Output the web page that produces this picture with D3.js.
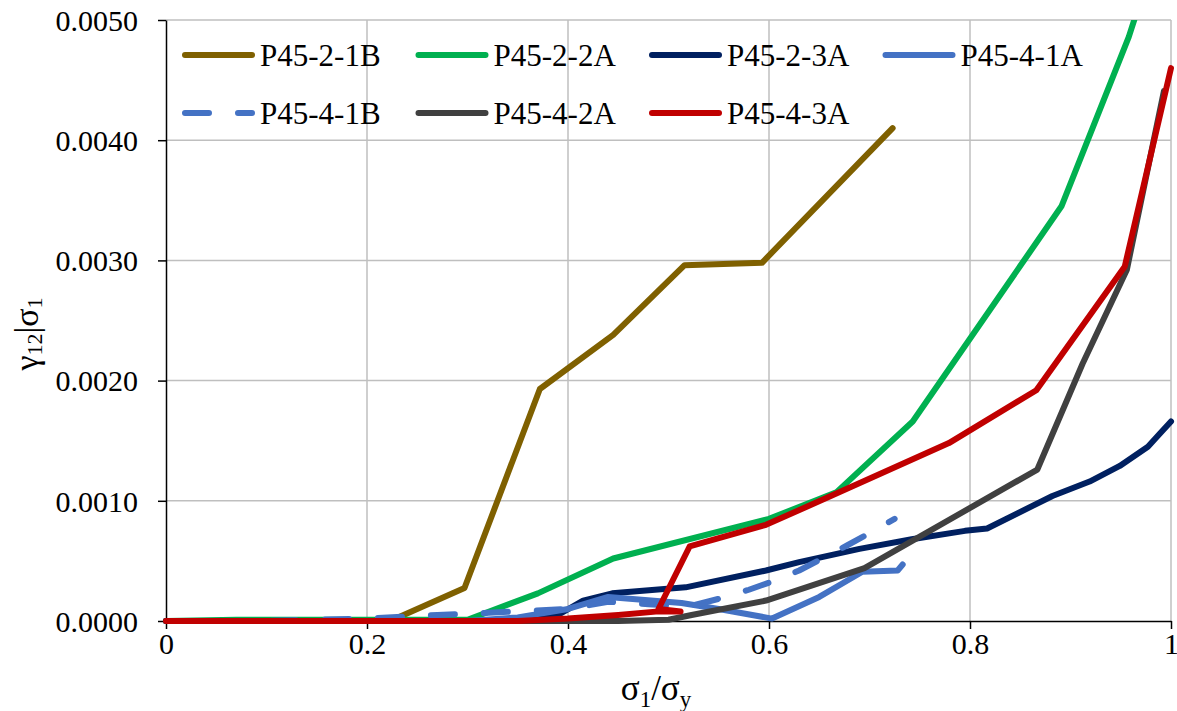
<!DOCTYPE html>
<html>
<head>
<meta charset="utf-8">
<script src="https://cdn.jsdelivr.net/npm/d3@7"></script>
<style>
  body { margin: 0; background: #fff; }
  text { font-family: "Liberation Serif", "Times New Roman", serif; fill: #000; }
</style>
</head>
<body>
<script>
// series values, [sigma1/sigmay, gamma12|sigma1]
var p4521B = [[0,0],[0.05,0],[0.1,0],[0.15,0],[0.223,0],[0.297,0.000275],[0.372,0.00193],[0.445,0.00238],[0.516,0.00296],[0.593,0.00298],[0.723,0.0041]];
var p4522A = [[0,0],[0.07,0.00001],[0.2,0.00001],[0.3,0.00001],[0.37,0.00023],[0.445,0.00052],[0.6,0.00085],[0.667,0.00107],[0.743,0.00166],[0.891,0.00345],[0.958,0.00486],[0.975,0.0053]];
var p4523A = [[0,0],[0.2,0],[0.35,0],[0.39,0.00005],[0.415,0.00017],[0.444,0.00023],[0.517,0.00028],[0.597,0.00042],[0.63,0.00049],[0.69,0.0006],[0.742,0.00068],[0.795,0.00075],[0.817,0.00077],[0.882,0.00104],[0.919,0.00116],[0.949,0.00129],[0.977,0.00145],[0.989,0.00156],[1.0,0.00166]];
var p4541A = [[0,0],[0.2,0],[0.3,0],[0.35,0.00003],[0.4,0.0001],[0.44,0.0002],[0.513,0.00015],[0.55,0.0001],[0.603,0.00002],[0.65,0.0002],[0.693,0.00041],[0.728,0.00042],[0.733,0.00047]];
var p4541B = [[0,0],[0.1,0],[0.2,0.00002],[0.27,0.00005],[0.3,0.00006],[0.35,0.00008],[0.4,0.0001],[0.44,0.00016],[0.48,0.00014],[0.52,0.00012],[0.557,0.0002],[0.58,0.00026],[0.607,0.00034],[0.63,0.00042],[0.653,0.00052],[0.678,0.00063],[0.7,0.00073],[0.725,0.00085]];
var p4542A = [[0,0],[0.3,0],[0.45,0],[0.5,0.00001],[0.523,0.00005],[0.597,0.00017],[0.695,0.00044],[0.867,0.00126],[0.912,0.00214],[0.956,0.00292],[0.993,0.00441]];
var p4543A = [[0,0],[0.2,0],[0.35,0],[0.4,0.00002],[0.45,0.00005],[0.49,0.00008],[0.512,0.00008],[0.49,0.0001],[0.521,0.00062],[0.597,0.0008],[0.667,0.00106],[0.779,0.00148],[0.866,0.00192],[0.954,0.00295],[1.0,0.0046]];

var seriesNames = ["P45-2-1B", "P45-2-2A", "P45-2-3A", "P45-4-1A", "P45-4-1B", "P45-4-2A", "P45-4-3A"];
var seriesValues = [p4521B, p4522A, p4523A, p4541A, p4541B, p4542A, p4543A];
var seriesColors = ["#7F6000", "#00B050", "#002060", "#4472C4", "#4472C4", "#404040", "#C00000"];
var seriesDashed = [false, false, false, false, true, false, false];

var xTicks = [0, 0.2, 0.4, 0.6, 0.8, 1];
var xTickLabels = ["0", "0.2", "0.4", "0.6", "0.8", "1"];
var yTicks = [0, 0.001, 0.002, 0.003, 0.004, 0.005];
var yTickLabels = ["0.0000", "0.0010", "0.0020", "0.0030", "0.0040", "0.0050"];

var width_SVG = 1177, height_SVG = 711;
var plotL = 166, plotR = 1171, plotT = 20, plotB = 621;

var svg = d3.select("body").append("svg")
    .attr("width", width_SVG)
    .attr("height", height_SVG);

var x = d3.scaleLinear().domain([0, 1]).range([plotL, plotR]);
var y = d3.scaleLinear().domain([0, 0.005]).range([plotB, plotT]);

// grid
svg.append("g").selectAll("line")
    .data(xTicks.slice(1))
    .enter().append("line")
    .attr("x1", function(d){ return x(d); }).attr("x2", function(d){ return x(d); })
    .attr("y1", plotT).attr("y2", plotB)
    .attr("stroke", "#BFBFBF").attr("stroke-width", 1.5);
svg.append("g").selectAll("line")
    .data(yTicks.slice(1))
    .enter().append("line")
    .attr("x1", plotL).attr("x2", plotR)
    .attr("y1", function(d){ return y(d); }).attr("y2", function(d){ return y(d); })
    .attr("stroke", "#BFBFBF").attr("stroke-width", 1.5);

// axes
var xAxis = svg.append("g")
    .attr("transform", "translate(0," + plotB + ")")
    .call(d3.axisBottom(x).tickValues(xTicks).tickSize(8).tickSizeOuter(0)
        .tickFormat(function(d, i){ return xTickLabels[i]; }));
var yAxis = svg.append("g")
    .attr("transform", "translate(" + plotL + ",0)")
    .call(d3.axisLeft(y).tickValues(yTicks).tickSize(8).tickSizeOuter(0)
        .tickFormat(function(d, i){ return yTickLabels[i]; }));
[xAxis, yAxis].forEach(function(a){
    a.select(".domain").attr("stroke", "#000").attr("stroke-width", 1.5);
    a.selectAll(".tick line").attr("stroke", "#000").attr("stroke-width", 1.5);
    a.selectAll(".tick text")
        .style("font-family", '"Liberation Serif", "Times New Roman", serif')
        .style("font-size", "30px").attr("fill", "#000");
});
xAxis.selectAll(".tick text").attr("y", 12).attr("dy", "0.71em");
yAxis.selectAll(".tick text").attr("x", -28).attr("dy", "0.34em");

// clip
svg.append("defs").append("clipPath").attr("id", "plotclip")
    .append("rect").attr("x", plotL - 5).attr("y", plotT)
    .attr("width", plotR - plotL + 10).attr("height", plotB - plotT + 5);

var line = d3.line()
    .x(function(d){ return x(d[0]); })
    .y(function(d){ return y(d[1]); });

svg.append("g").attr("clip-path", "url(#plotclip)")
    .selectAll("path")
    .data(seriesValues)
    .enter().append("path")
    .attr("d", line)
    .attr("fill", "none")
    .attr("stroke", function(d, i){ return seriesColors[i]; })
    .attr("stroke-width", 6)
    .attr("stroke-linejoin", "round")
    .attr("stroke-linecap", "round")
    .attr("stroke-dasharray", function(d, i){ return seriesDashed[i] ? "24,29" : null; });

// legend
var leg = svg.append("g").selectAll("g")
    .data(seriesNames)
    .enter().append("g")
    .attr("transform", function(d, i){
        return "translate(" + (185 + (i % 4) * 233.5) + "," + (55 + Math.floor(i / 4) * 58) + ")";
    });
leg.append("line")
    .attr("x1", 0).attr("x2", 67).attr("y1", 0).attr("y2", 0)
    .attr("stroke", function(d, i){ return seriesColors[i]; })
    .attr("stroke-width", 6)
    .attr("stroke-linecap", "round")
    .attr("stroke-dasharray", function(d, i){ return seriesDashed[i] ? "24,29" : null; });
leg.append("text")
    .attr("x", 75).attr("y", 0).attr("dy", "0.34em")
    .style("font-size", "31px")
    .text(function(d){ return d; });

// axis titles
var xt = svg.append("text")
    .attr("x", 656).attr("y", 700)
    .attr("text-anchor", "middle")
    .style("font-size", "35px");
xt.append("tspan").text("σ");
xt.append("tspan").attr("dy", 7).style("font-size", "23px").text("1");
xt.append("tspan").attr("dy", -7).text("/σ");
xt.append("tspan").attr("dy", 7).style("font-size", "23px").text("y");

var yt = svg.append("text")
    .attr("transform", "translate(38,334) rotate(-90)")
    .attr("text-anchor", "middle")
    .style("font-size", "34px");
yt.append("tspan").text("γ");
yt.append("tspan").attr("dy", 4).style("font-size", "22px").text("12");
yt.append("tspan").attr("dy", -4).text("|σ");
yt.append("tspan").attr("dy", 4).style("font-size", "22px").text("1");
</script>
</body>
</html>
